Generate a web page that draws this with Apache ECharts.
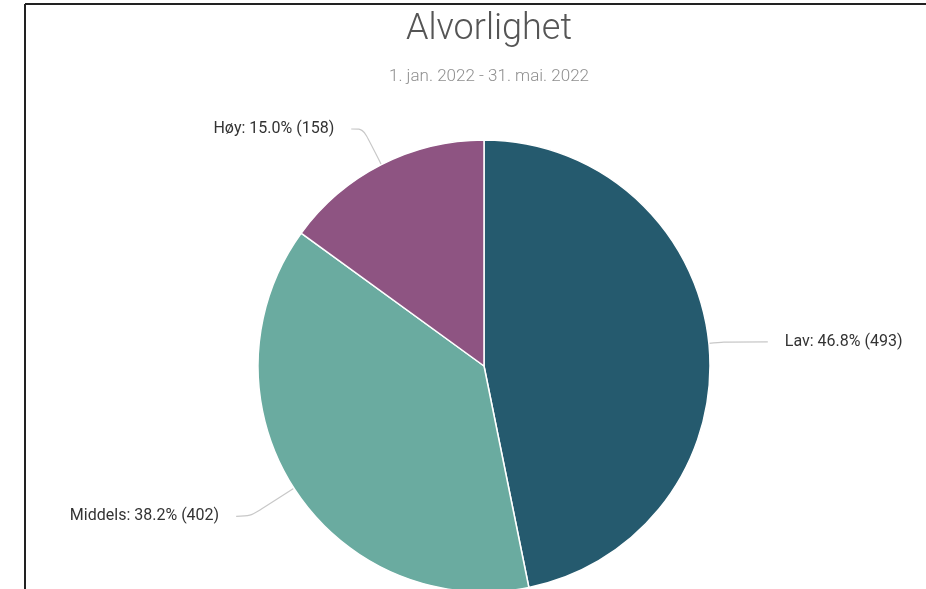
<!DOCTYPE html>
<html>
<head>
<meta charset="utf-8">
<script src="https://cdn.jsdelivr.net/npm/echarts@6/dist/echarts.min.js"></script>
<style>
  html, body { margin: 0; padding: 0; background: #fff; }
  #main { width: 926px; height: 589px; }
</style>
</head>
<body>
<div id="main"></div>
<script>
// data
const categories = ['Lav', 'Middels', 'Høy'];
const counts = [493, 402, 158];
const colors = ['#255a6e', '#6aaba0', '#8e5482'];
// label line lengths per slice (radial, horizontal)
const lineLen = [15, 52, 40];
const lineLen2 = [44, 14, 12];

const total = counts.reduce((a, b) => a + b, 0);

let chart = echarts.init(document.getElementById('main'));
chart.setOption({
  backgroundColor: '#fff',
  title: [
    {
      text: 'Alvorlighet',
      left: 484,
      top: 7,
      textAlign: 'center',
      textStyle: { fontFamily: 'Roboto', fontWeight: 300, fontSize: 36, color: '#555' }
    },
    {
      text: '1. jan. 2022 - 31. mai. 2022',
      left: 484,
      top: 63,
      textAlign: 'center',
      textStyle: { fontFamily: 'Roboto', fontWeight: 300, fontSize: 17, color: '#8f8f8f' }
    }
  ],
  graphic: [
    { type: 'line', shape: { x1: 25, y1: 4, x2: 926, y2: 4 }, style: { stroke: '#222', lineWidth: 2 } },
    { type: 'line', shape: { x1: 25, y1: 4, x2: 25, y2: 589 }, style: { stroke: '#222', lineWidth: 2 } }
  ],
  series: [{
    type: 'pie',
    center: [484, 366],
    radius: 226,
    startAngle: 90,
    clockwise: true,
    avoidLabelOverlap: false,
    itemStyle: { borderColor: '#fff', borderWidth: 1.5 },
    label: {
      fontFamily: 'Roboto',
      fontSize: 16,
      color: '#333',
      distanceToLabelLine: 17,
      formatter: function (p) {
        return p.name + ': ' + (p.value / total * 100).toFixed(1) + '% (' + p.value + ')';
      }
    },
    labelLine: { smooth: 0.3, lineStyle: { color: '#c8c8c8', width: 1.2 } },
    emphasis: { scale: false },
    data: categories.map((name, i) => ({
      name: name,
      value: counts[i],
      itemStyle: { color: colors[i] },
      labelLine: { length: lineLen[i], length2: lineLen2[i] }
    }))
  }]
});
</script>
</body>
</html>
